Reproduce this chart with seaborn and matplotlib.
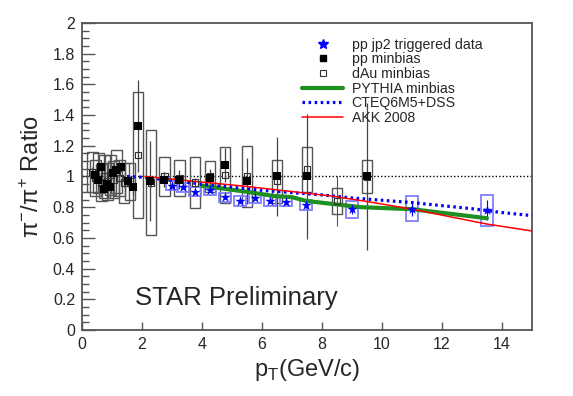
import numpy as np
import pandas as pd
import seaborn as sns
import matplotlib.pyplot as plt
from matplotlib.patches import Rectangle
from matplotlib.lines import Line2D
from matplotlib.ticker import MultipleLocator

# pp jp2 triggered data (blue stars, blue sys boxes)
jp2_pt = [3.0, 3.37, 3.77, 4.27, 4.77, 5.27, 5.77, 6.27, 6.79, 7.47, 8.99, 11.01, 13.5]
jp2_ratio = [0.94, 0.93, 0.90, 0.91, 0.865, 0.84, 0.86, 0.84, 0.835, 0.815, 0.785, 0.79, 0.78]
jp2_stat = [0.01, 0.01, 0.01, 0.01, 0.01, 0.01, 0.01, 0.01, 0.015, 0.02, 0.03, 0.05, 0.065]
jp2_sys = [0.03, 0.03, 0.03, 0.03, 0.03, 0.03, 0.03, 0.03, 0.03, 0.035, 0.055, 0.08, 0.10]

# pp minbias (filled black squares)
mb_pt = [0.45, 0.55, 0.65, 0.75, 0.85, 0.95, 1.05, 1.15, 1.3, 1.55, 1.7, 1.87, 2.27, 2.75, 3.25, 4.27, 4.77, 5.5, 6.5, 7.5, 9.5]
mb_ratio = [1.01, 0.98, 1.06, 0.92, 0.95, 0.93, 1.02, 1.04, 1.06, 0.97, 0.93, 1.33, 0.97, 0.98, 0.98, 0.99, 1.075, 0.97, 1.0, 1.0, 1.0]
mb_stat = [0.02, 0.02, 0.02, 0.02, 0.02, 0.02, 0.03, 0.03, 0.03, 0.04, 0.05, 0.30, 0.26, 0.05, 0.06, 0.06, 0.11, 0.15, 0.26, 0.41, 0.48]

# dAu minbias (open squares, gray sys boxes)
dau_pt = [0.35, 0.45, 0.55, 0.65, 0.75, 0.85, 0.95, 1.05, 1.15, 1.25, 1.4, 1.6, 1.87,
          2.3, 2.75, 3.25, 3.77, 4.27, 4.77, 5.5, 6.5, 7.5, 8.5, 9.5]
dau_ratio = [1.03, 0.99, 1.02, 0.96, 1.0, 0.97, 1.01, 0.98, 1.03, 0.99, 0.96, 0.97, 1.14,
             0.96, 1.0, 0.99, 0.96, 1.0, 1.01, 1.0, 0.97, 1.045, 0.84, 1.0]
dau_sys = [0.13, 0.12, 0.13, 0.12, 0.14, 0.12, 0.13, 0.12, 0.14, 0.12, 0.13, 0.12, 0.41,
           0.34, 0.13, 0.12, 0.165, 0.10, 0.18, 0.20, 0.14, 0.145, 0.085, 0.11]
dau_stat = [0.03] * 22 + [0.16, 0.05]

# theory curves
pythia_pt = [4.0, 5.5, 6.4, 7.0, 7.5, 9.3, 11.0, 13.5]
pythia_ratio = [0.94, 0.90, 0.873, 0.865, 0.84, 0.80, 0.787, 0.728]
cteq_pt = [1.5, 2, 3, 4, 5, 6, 7, 8, 9, 10, 11, 12, 13, 14, 15]
cteq_ratio = [1.0, 0.995, 0.975, 0.95, 0.93, 0.91, 0.895, 0.88, 0.86, 0.845, 0.83, 0.81, 0.79, 0.765, 0.745]
akk_pt = [2.1, 3.3, 5.5, 7.3, 8.3, 9.5, 11.0, 13.5, 15.0]
akk_ratio = [1.0, 0.977, 0.935, 0.895, 0.873, 0.837, 0.787, 0.69, 0.645]

sns.set_style("ticks")
plt.rcParams['font.family'] = ['Liberation Sans', 'DejaVu Sans']
plt.rcParams['mathtext.fontset'] = 'custom'
plt.rcParams['mathtext.rm'] = 'Liberation Sans'

fig = plt.figure(figsize=(5.73, 3.96), dpi=100)
ax = fig.add_axes([0.1431, 0.1667, 0.7853, 0.7753])

# reference line at 1
ax.axhline(1.0, color="black", lw=1, ls=(0, (1, 1.5)), zorder=1)

# dAu sys boxes + stat bars
box_hw = 0.17
for x, y, s in zip(dau_pt, dau_ratio, dau_sys):
    ax.add_patch(Rectangle((x - box_hw, y - s), 2 * box_hw, 2 * s, fill=False,
                           ec="#555555", lw=1.0, zorder=2))
ax.errorbar(dau_pt, dau_ratio, yerr=dau_stat, fmt="none", ecolor="#555555", elinewidth=0.8, zorder=2)

# pp minbias stat bars
ax.errorbar(mb_pt, mb_ratio, yerr=mb_stat, fmt="none", ecolor="#444444", elinewidth=0.9, zorder=3)

# jp2 sys boxes
for x, y, s in zip(jp2_pt, jp2_ratio, jp2_sys):
    ax.add_patch(Rectangle((x - 0.2, y - s), 0.4, 2 * s, fill=False,
                           ec="#7f7fff", lw=1.3, zorder=3))
ax.errorbar(jp2_pt, jp2_ratio, yerr=jp2_stat, fmt="none", ecolor="blue", elinewidth=0.8, zorder=3)

# theory
sns.lineplot(x=pythia_pt, y=pythia_ratio, ax=ax, color="#1f8f1f", lw=3, zorder=4)
sns.lineplot(x=cteq_pt, y=cteq_ratio, ax=ax, color="blue", lw=2.3, ls=(0, (0.8, 1.1)), zorder=4)
sns.lineplot(x=akk_pt, y=akk_ratio, ax=ax, color="red", lw=1.1, zorder=4)

# markers
sns.scatterplot(x=dau_pt, y=dau_ratio, ax=ax, marker="s", s=22, facecolor="none",
                edgecolor="#333333", linewidth=0.8, zorder=5)
sns.scatterplot(x=mb_pt, y=mb_ratio, ax=ax, marker="s", s=32, color="black",
                edgecolor="black", linewidth=0, zorder=6)
sns.scatterplot(x=jp2_pt, y=jp2_ratio, ax=ax, marker="*", s=60, color="blue",
                edgecolor="blue", linewidth=0, zorder=7)

ax.set_xlim(0, 15)
ax.set_ylim(0, 2)
ax.xaxis.set_major_locator(MultipleLocator(2))
ax.yaxis.set_major_locator(MultipleLocator(0.2))
ax.yaxis.set_minor_locator(MultipleLocator(0.05))
ax.yaxis.set_major_formatter(plt.FuncFormatter(lambda v, p: f"{v:g}"))
ax.tick_params(axis="y", which="major", direction="in", length=9, width=1, color="#555555", labelsize=11.5, pad=5)
ax.tick_params(axis="y", which="minor", direction="in", length=5, width=1, color="#555555")
ax.tick_params(axis="x", which="major", direction="in", length=6, width=1, color="#555555", labelsize=11.5, pad=5)
for sp in ax.spines.values():
    sp.set_color("#555555")
    sp.set_linewidth(1.3)

ax.set_xlabel(r"p$_{\rm T}$(GeV/c)", fontsize=17, labelpad=4)
ax.set_ylabel(r"π$^{-}$/π$^{+}$ Ratio", fontsize=17, labelpad=6)

ax.text(1.77, 0.165, "STAR Preliminary", fontsize=18.5, ha="left", va="baseline")

handles = [
    Line2D([], [], ls="none", marker="*", color="blue", ms=7),
    Line2D([], [], ls="none", marker="s", color="black", ms=5),
    Line2D([], [], ls="none", marker="s", mfc="none", mec="#333333", ms=5, mew=0.8),
    Line2D([], [], color="#1f8f1f", lw=3),
    Line2D([], [], color="blue", lw=2.3, ls=(0, (0.8, 1.1))),
    Line2D([], [], color="red", lw=1.1),
]
labels = ["pp jp2 triggered data", "pp minbias", "dAu minbias",
          "PYTHIA minbias", "CTEQ6M5+DSS", "AKK 2008"]
fig.legend(handles, labels, loc="upper left", bbox_to_anchor=(0.527, 0.905),
           frameon=False, fontsize=10.2, handlelength=2.9, handletextpad=0.6,
           labelspacing=0.05, borderpad=0, borderaxespad=0)

fig.savefig("out.png", dpi=100)
